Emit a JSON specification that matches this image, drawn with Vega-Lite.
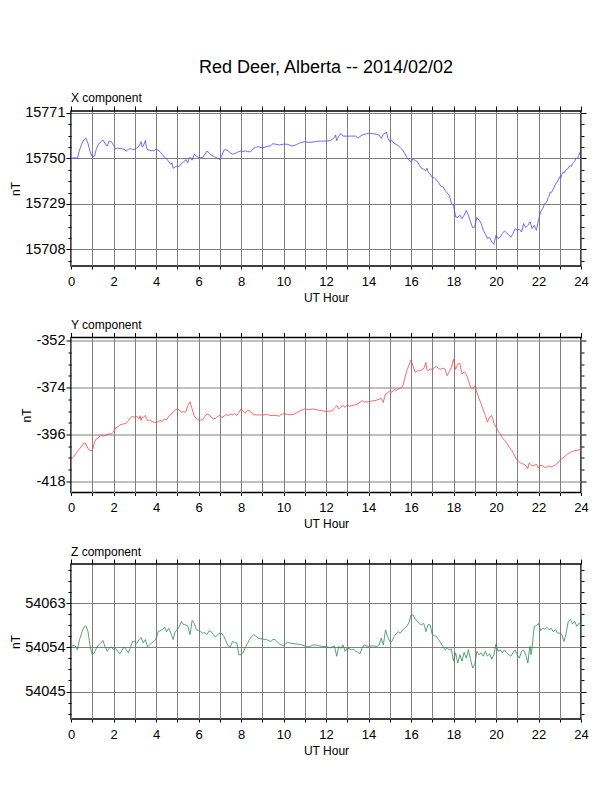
{
  "$schema": "https://vega.github.io/schema/vega-lite/v6.json",
  "background": "white",
  "autosize": {"type": "pad"},
  "padding": {"left": 8, "top": 59, "right": 5, "bottom": 5},
  "title": {
    "text": "Red Deer, Alberta -- 2014/02/02",
    "anchor": "middle",
    "frame": "group",
    "fontSize": 18,
    "fontWeight": "normal",
    "font": "Liberation Sans",
    "color": "black",
    "baseline": "alphabetic",
    "offset": 0
  },
  "bounds": "flush",
  "spacing": 71.5,
  "config": {
    "view": {"stroke": "black", "strokeWidth": 1.5},
    "axis": {
      "domain": false,
      "labelFont": "Liberation Sans",
      "titleFont": "Liberation Sans",
      "labelColor": "black",
      "titleColor": "black",
      "titleFontWeight": "normal",
      "titleFontSize": 12,
      "tickColor": "black",
      "tickWidth": 1,
      "gridColor": "#808080",
      "gridWidth": 1,
      "labelFlush": false,
      "labelOverlap": false
    },
    "title": {"font": "Liberation Sans", "color": "black"}
  },
  "datasets": {
    "xcomp": [
      {"h":0,"v":15750},{"h":0.2,"v":15750.3},{"h":0.3,"v":15750},{"h":0.4,"v":15753.9},{"h":0.5,"v":15756.5},{"h":0.6,"v":15758.5},{"h":0.7,"v":15759.3},{"h":0.8,"v":15757},{"h":0.9,"v":15753},{"h":1.0,"v":15750.8},
      {"h":1.1,"v":15751},{"h":1.2,"v":15754.6},{"h":1.3,"v":15756.5},{"h":1.4,"v":15757.7},{"h":1.5,"v":15758.5},{"h":1.6,"v":15757},{"h":1.7,"v":15755.7},{"h":1.8,"v":15758},{"h":1.9,"v":15757.7},{"h":2.0,"v":15756},
      {"h":2.1,"v":15754.3},{"h":2.2,"v":15754.8},{"h":2.3,"v":15754.6},{"h":2.4,"v":15754.4},{"h":2.5,"v":15754.2},{"h":2.6,"v":15753.4},{"h":2.7,"v":15754.2},{"h":2.8,"v":15754.6},{"h":2.9,"v":15754},{"h":3.0,"v":15754.3},
      {"h":3.1,"v":15754.8},{"h":3.2,"v":15755.7},{"h":3.3,"v":15757.7},{"h":3.35,"v":15755.2},{"h":3.4,"v":15755.7},{"h":3.5,"v":15758.2},{"h":3.55,"v":15755},{"h":3.6,"v":15753.9},{"h":3.7,"v":15753.8},{"h":3.8,"v":15753.5},
      {"h":3.9,"v":15753.6},{"h":4.0,"v":15754.2},{"h":4.1,"v":15753.8},{"h":4.2,"v":15753},{"h":4.3,"v":15751.8},{"h":4.4,"v":15750.5},{"h":4.5,"v":15749.8},{"h":4.6,"v":15748.5},{"h":4.7,"v":15747.2},{"h":4.75,"v":15748},
      {"h":4.8,"v":15745.4},{"h":4.9,"v":15746.1},{"h":5.0,"v":15746.5},{"h":5.1,"v":15746.3},{"h":5.2,"v":15747.7},{"h":5.3,"v":15748.3},{"h":5.4,"v":15749.5},{"h":5.5,"v":15748},{"h":5.55,"v":15750},{"h":5.6,"v":15750.5},
      {"h":5.7,"v":15749.2},{"h":5.8,"v":15752},{"h":5.9,"v":15751},{"h":6.0,"v":15750.5},{"h":6.1,"v":15750.3},{"h":6.2,"v":15750.5},{"h":6.3,"v":15752},{"h":6.4,"v":15753.4},{"h":6.5,"v":15752.6},{"h":6.6,"v":15751.5},
      {"h":6.7,"v":15751},{"h":6.8,"v":15750.5},{"h":6.9,"v":15750},{"h":7.0,"v":15749.5},{"h":7.1,"v":15751.5},{"h":7.2,"v":15753.9},{"h":7.3,"v":15753.9},{"h":7.4,"v":15753.5},{"h":7.5,"v":15752.5},{"h":7.6,"v":15752},
      {"h":7.7,"v":15752.3},{"h":7.8,"v":15752.6},{"h":7.9,"v":15753.2},{"h":8.0,"v":15753.5},{"h":8.1,"v":15753.2},{"h":8.2,"v":15753.5},{"h":8.3,"v":15753.2},{"h":8.4,"v":15753},{"h":8.5,"v":15753.5},{"h":8.6,"v":15754.6},
      {"h":8.7,"v":15755.2},{"h":8.8,"v":15755.4},{"h":9.0,"v":15754.9},{"h":9.2,"v":15755.4},{"h":9.4,"v":15755.9},{"h":9.5,"v":15756.8},{"h":9.6,"v":15756.6},{"h":9.8,"v":15756.2},{"h":10.0,"v":15756.6},{"h":10.2,"v":15756.5},
      {"h":10.4,"v":15755.7},{"h":10.6,"v":15756.3},{"h":10.8,"v":15757.3},{"h":11.0,"v":15757.7},{"h":11.2,"v":15757.4},{"h":11.4,"v":15757.6},{"h":11.6,"v":15757.9},{"h":11.8,"v":15758},{"h":12.0,"v":15758},{"h":12.2,"v":15758.2},
      {"h":12.4,"v":15759.7},{"h":12.45,"v":15760.8},{"h":12.5,"v":15758.2},{"h":12.6,"v":15760.3},{"h":12.7,"v":15761.5},{"h":12.8,"v":15760.3},{"h":13.0,"v":15760.3},{"h":13.2,"v":15760.3},{"h":13.4,"v":15760.3},{"h":13.5,"v":15759.4},
      {"h":13.7,"v":15760.8},{"h":14.0,"v":15761.6},{"h":14.3,"v":15761.3},{"h":14.5,"v":15760.8},{"h":14.6,"v":15759.3},{"h":14.7,"v":15761.3},{"h":14.8,"v":15761.6},{"h":14.85,"v":15762.2},{"h":14.9,"v":15759.7},{"h":15.0,"v":15757.7},
      {"h":15.1,"v":15758.3},{"h":15.2,"v":15757},{"h":15.3,"v":15756.5},{"h":15.4,"v":15755.9},{"h":15.5,"v":15755},{"h":15.6,"v":15753.9},{"h":15.7,"v":15752.4},{"h":15.8,"v":15750.5},{"h":15.9,"v":15749.2},{"h":16.0,"v":15748.5},
      {"h":16.1,"v":15749.8},{"h":16.2,"v":15749},{"h":16.3,"v":15748.5},{"h":16.4,"v":15746.8},{"h":16.5,"v":15745.4},{"h":16.6,"v":15745},{"h":16.7,"v":15744.3},{"h":16.75,"v":15745.5},{"h":16.8,"v":15743.8},{"h":16.9,"v":15742.8},
      {"h":17.0,"v":15741.2},{"h":17.1,"v":15741},{"h":17.2,"v":15740},{"h":17.3,"v":15738.8},{"h":17.4,"v":15737.2},{"h":17.5,"v":15736.9},{"h":17.6,"v":15735.3},{"h":17.7,"v":15734},{"h":17.8,"v":15733},{"h":17.9,"v":15729.2},
      {"h":18.0,"v":15728.4},{"h":18.1,"v":15723},{"h":18.2,"v":15722.7},{"h":18.3,"v":15723.8},{"h":18.4,"v":15722.2},{"h":18.5,"v":15723.8},{"h":18.6,"v":15726},{"h":18.7,"v":15723.8},{"h":18.8,"v":15720.7},{"h":18.9,"v":15718},
      {"h":19.0,"v":15718.4},{"h":19.1,"v":15722.7},{"h":19.2,"v":15721.5},{"h":19.3,"v":15719.9},{"h":19.4,"v":15716.8},{"h":19.5,"v":15715},{"h":19.6,"v":15713},{"h":19.7,"v":15713.5},{"h":19.8,"v":15711.4},{"h":19.9,"v":15710.3},
      {"h":20.0,"v":15714.5},{"h":20.1,"v":15713},{"h":20.2,"v":15713.7},{"h":20.3,"v":15715.3},{"h":20.4,"v":15716.5},{"h":20.5,"v":15715.6},{"h":20.6,"v":15714.5},{"h":20.7,"v":15713.7},{"h":20.8,"v":15715.3},{"h":20.9,"v":15717.6},
      {"h":21.0,"v":15716.8},{"h":21.1,"v":15717.3},{"h":21.2,"v":15716},{"h":21.3,"v":15719.9},{"h":21.4,"v":15718},{"h":21.5,"v":15719.1},{"h":21.6,"v":15720.7},{"h":21.7,"v":15717.6},{"h":21.8,"v":15719.1},{"h":21.9,"v":15716.8},
      {"h":22.0,"v":15721.5},{"h":22.1,"v":15725.3},{"h":22.2,"v":15726.9},{"h":22.3,"v":15729.2},{"h":22.4,"v":15730},{"h":22.45,"v":15731.8},{"h":22.5,"v":15732.5},{"h":22.55,"v":15734.5},{"h":22.6,"v":15734.2},{"h":22.7,"v":15735.8},
      {"h":22.8,"v":15738},{"h":22.9,"v":15739.5},{"h":23.0,"v":15741.5},{"h":23.05,"v":15741},{"h":23.1,"v":15742.6},{"h":23.15,"v":15743.5},{"h":23.2,"v":15743.2},{"h":23.3,"v":15744.8},{"h":23.4,"v":15745.4},{"h":23.45,"v":15746.5},
      {"h":23.5,"v":15746.6},{"h":23.55,"v":15746.3},{"h":23.6,"v":15747.5},{"h":23.7,"v":15748.6},{"h":23.75,"v":15749.8},{"h":23.8,"v":15750},{"h":23.85,"v":15750.2},{"h":23.9,"v":15751.5},{"h":23.95,"v":15752.8},{"h":24.0,"v":15752.3}
    ],
    "ycomp": [
      {"h":0,"v":-407.7},{"h":0.1,"v":-406.8},{"h":0.2,"v":-405.5},{"h":0.3,"v":-404},{"h":0.4,"v":-402.7},{"h":0.5,"v":-401.5},{"h":0.6,"v":-400},{"h":0.7,"v":-400.4},{"h":0.8,"v":-402.7},{"h":0.9,"v":-403.5},
      {"h":1.0,"v":-403.5},{"h":1.05,"v":-402},{"h":1.1,"v":-399.6},{"h":1.2,"v":-398},{"h":1.3,"v":-397.5},{"h":1.4,"v":-396.2},{"h":1.5,"v":-396.8},{"h":1.6,"v":-396.5},{"h":1.7,"v":-396},{"h":1.8,"v":-395.7},
      {"h":1.9,"v":-395.8},{"h":2.0,"v":-394.9},{"h":2.1,"v":-392.9},{"h":2.2,"v":-392.5},{"h":2.3,"v":-391.5},{"h":2.4,"v":-391.2},{"h":2.5,"v":-391},{"h":2.6,"v":-390.7},{"h":2.7,"v":-389.5},{"h":2.8,"v":-387.9},
      {"h":2.9,"v":-387.6},{"h":3.0,"v":-387.9},{"h":3.1,"v":-387.4},{"h":3.2,"v":-388.7},{"h":3.25,"v":-387.2},{"h":3.3,"v":-389.4},{"h":3.35,"v":-387.8},{"h":3.4,"v":-387.9},{"h":3.5,"v":-387.1},{"h":3.55,"v":-388.5},
      {"h":3.6,"v":-389.4},{"h":3.7,"v":-389.2},{"h":3.8,"v":-389.9},{"h":3.9,"v":-390.2},{"h":4.0,"v":-390.5},{"h":4.1,"v":-390},{"h":4.2,"v":-389.4},{"h":4.3,"v":-389.9},{"h":4.4,"v":-388.7},{"h":4.5,"v":-389.2},
      {"h":4.6,"v":-387.4},{"h":4.7,"v":-386.8},{"h":4.8,"v":-385.5},{"h":4.9,"v":-384.6},{"h":5.0,"v":-384},{"h":5.1,"v":-384.5},{"h":5.2,"v":-385.5},{"h":5.3,"v":-385.3},{"h":5.4,"v":-385.5},{"h":5.5,"v":-382.4},
      {"h":5.6,"v":-380.6},{"h":5.7,"v":-384},{"h":5.8,"v":-387.4},{"h":5.9,"v":-388.6},{"h":6.0,"v":-389.1},{"h":6.1,"v":-389.2},{"h":6.2,"v":-389.1},{"h":6.3,"v":-387.5},{"h":6.4,"v":-386.3},{"h":6.5,"v":-386.8},
      {"h":6.6,"v":-387.9},{"h":6.7,"v":-388.6},{"h":6.8,"v":-388.4},{"h":6.9,"v":-387.5},{"h":7.0,"v":-387.1},{"h":7.1,"v":-388},{"h":7.2,"v":-387.4},{"h":7.3,"v":-386.6},{"h":7.4,"v":-387.1},{"h":7.5,"v":-386.5},
      {"h":7.6,"v":-386.8},{"h":7.7,"v":-386.2},{"h":7.8,"v":-387.1},{"h":7.9,"v":-385.6},{"h":8.0,"v":-384},{"h":8.1,"v":-385},{"h":8.2,"v":-385.9},{"h":8.3,"v":-384.6},{"h":8.4,"v":-384.8},{"h":8.5,"v":-386},
      {"h":8.6,"v":-386.8},{"h":8.8,"v":-386.8},{"h":9.0,"v":-386.8},{"h":9.2,"v":-386.6},{"h":9.4,"v":-387.1},{"h":9.6,"v":-387},{"h":9.8,"v":-387.4},{"h":9.9,"v":-386.5},{"h":10.0,"v":-386.3},{"h":10.2,"v":-386.5},
      {"h":10.4,"v":-386.8},{"h":10.6,"v":-385.9},{"h":10.8,"v":-384.8},{"h":11.0,"v":-384},{"h":11.2,"v":-384.3},{"h":11.4,"v":-384},{"h":11.6,"v":-384.5},{"h":11.8,"v":-384.8},{"h":12.0,"v":-385.2},{"h":12.2,"v":-385},
      {"h":12.3,"v":-384.8},{"h":12.4,"v":-383.5},{"h":12.5,"v":-382.4},{"h":12.6,"v":-384},{"h":12.7,"v":-383},{"h":12.8,"v":-382.4},{"h":12.9,"v":-383.2},{"h":13.0,"v":-382.1},{"h":13.1,"v":-382.8},{"h":13.2,"v":-382.4},
      {"h":13.4,"v":-382},{"h":13.5,"v":-381.6},{"h":13.6,"v":-380.8},{"h":13.7,"v":-380.1},{"h":13.8,"v":-380.8},{"h":14.0,"v":-380.6},{"h":14.2,"v":-380.2},{"h":14.3,"v":-380.1},{"h":14.5,"v":-379.5},{"h":14.6,"v":-379},
      {"h":14.7,"v":-380.9},{"h":14.75,"v":-378.5},{"h":14.8,"v":-377},{"h":14.9,"v":-376.5},{"h":15.0,"v":-375.4},{"h":15.1,"v":-376.2},{"h":15.2,"v":-374.9},{"h":15.3,"v":-375.2},{"h":15.4,"v":-374.6},{"h":15.5,"v":-374.2},
      {"h":15.6,"v":-373.5},{"h":15.7,"v":-370},{"h":15.8,"v":-366},{"h":15.9,"v":-363.5},{"h":16.0,"v":-360.9},{"h":16.1,"v":-364},{"h":16.2,"v":-366.8},{"h":16.3,"v":-366.2},{"h":16.4,"v":-366},{"h":16.5,"v":-365.6},
      {"h":16.6,"v":-365},{"h":16.7,"v":-362.1},{"h":16.75,"v":-365.5},{"h":16.8,"v":-366},{"h":16.9,"v":-365.2},{"h":17.0,"v":-365.3},{"h":17.1,"v":-364.6},{"h":17.2,"v":-364},{"h":17.3,"v":-365},{"h":17.4,"v":-365.3},
      {"h":17.5,"v":-364.8},{"h":17.6,"v":-365.3},{"h":17.7,"v":-368.4},{"h":17.8,"v":-366.5},{"h":17.9,"v":-364.5},{"h":18.0,"v":-360.6},{"h":18.05,"v":-363},{"h":18.1,"v":-365.3},{"h":18.2,"v":-363},{"h":18.3,"v":-362.5},
      {"h":18.4,"v":-367.6},{"h":18.5,"v":-366.5},{"h":18.6,"v":-367.6},{"h":18.7,"v":-370.5},{"h":18.8,"v":-373.8},{"h":18.9,"v":-374.5},{"h":19.0,"v":-373.1},{"h":19.1,"v":-376.2},{"h":19.2,"v":-379},{"h":19.3,"v":-381.6},
      {"h":19.4,"v":-384.5},{"h":19.5,"v":-387.1},{"h":19.6,"v":-390.2},{"h":19.7,"v":-387.9},{"h":19.8,"v":-387.1},{"h":19.9,"v":-390.5},{"h":20.0,"v":-392.6},{"h":20.1,"v":-394.5},{"h":20.2,"v":-395.7},{"h":20.3,"v":-397.5},
      {"h":20.4,"v":-398.8},{"h":20.5,"v":-400},{"h":20.6,"v":-401.5},{"h":20.7,"v":-403},{"h":20.8,"v":-404.3},{"h":20.9,"v":-406.5},{"h":21.0,"v":-408.2},{"h":21.1,"v":-409},{"h":21.2,"v":-409.7},{"h":21.3,"v":-410},
      {"h":21.4,"v":-410.5},{"h":21.5,"v":-412.1},{"h":21.55,"v":-409.5},{"h":21.6,"v":-409.7},{"h":21.7,"v":-410.8},{"h":21.8,"v":-410.5},{"h":21.9,"v":-410},{"h":22.0,"v":-411.8},{"h":22.1,"v":-410.5},{"h":22.2,"v":-410.8},
      {"h":22.3,"v":-411.5},{"h":22.4,"v":-411.3},{"h":22.5,"v":-410.8},{"h":22.6,"v":-411.3},{"h":22.7,"v":-410.8},{"h":22.8,"v":-410.2},{"h":22.9,"v":-409.5},{"h":23.0,"v":-408.2},{"h":23.1,"v":-407.4},{"h":23.2,"v":-406.6},
      {"h":23.3,"v":-405.8},{"h":23.4,"v":-405},{"h":23.5,"v":-404.5},{"h":23.6,"v":-404},{"h":23.7,"v":-403.6},{"h":23.8,"v":-403.5},{"h":23.9,"v":-403.2},{"h":24.0,"v":-403.2}
    ],
    "zcomp": [
      {"h":0,"v":54054.1},{"h":0.1,"v":54054.4},{"h":0.2,"v":54054.3},{"h":0.3,"v":54053.5},{"h":0.4,"v":54055.6},{"h":0.5,"v":54056.9},{"h":0.6,"v":54058.1},{"h":0.7,"v":54058.4},{"h":0.8,"v":54057.2},{"h":0.9,"v":54054.2},
      {"h":1.0,"v":54052.5},{"h":1.1,"v":54052.9},{"h":1.2,"v":54053.9},{"h":1.3,"v":54054.5},{"h":1.4,"v":54054.9},{"h":1.5,"v":54055.4},{"h":1.6,"v":54054.2},{"h":1.7,"v":54053.2},{"h":1.8,"v":54053.9},{"h":1.9,"v":54054.1},
      {"h":2.0,"v":54053.5},{"h":2.1,"v":54053.8},{"h":2.2,"v":54053.2},{"h":2.3,"v":54052.7},{"h":2.4,"v":54053.4},{"h":2.5,"v":54054.1},{"h":2.6,"v":54053.5},{"h":2.7,"v":54052.9},{"h":2.8,"v":54054},{"h":2.9,"v":54055.2},
      {"h":3.0,"v":54055.2},{"h":3.1,"v":54054.8},{"h":3.2,"v":54055.6},{"h":3.3,"v":54056},{"h":3.4,"v":54054.9},{"h":3.5,"v":54055.6},{"h":3.6,"v":54054.1},{"h":3.7,"v":54054.5},{"h":3.8,"v":54054.9},{"h":3.9,"v":54055.2},
      {"h":4.0,"v":54055.7},{"h":4.1,"v":54057.2},{"h":4.2,"v":54057.4},{"h":4.3,"v":54057.6},{"h":4.4,"v":54058.1},{"h":4.5,"v":54057.2},{"h":4.6,"v":54057.9},{"h":4.7,"v":54056.9},{"h":4.8,"v":54055.6},{"h":4.9,"v":54057.2},
      {"h":5.0,"v":54057.6},{"h":5.1,"v":54058.3},{"h":5.2,"v":54059.3},{"h":5.3,"v":54058.6},{"h":5.4,"v":54058.6},{"h":5.5,"v":54058.3},{"h":5.6,"v":54056.6},{"h":5.7,"v":54059.5},{"h":5.8,"v":54058.9},{"h":5.9,"v":54057.6},
      {"h":6.0,"v":54057.4},{"h":6.1,"v":54057.2},{"h":6.2,"v":54056.9},{"h":6.3,"v":54057},{"h":6.4,"v":54056.6},{"h":6.5,"v":54057.4},{"h":6.6,"v":54057.2},{"h":6.7,"v":54056.6},{"h":6.8,"v":54056.1},{"h":6.9,"v":54056.6},
      {"h":7.0,"v":54056.9},{"h":7.1,"v":54056.8},{"h":7.2,"v":54056.2},{"h":7.3,"v":54055.2},{"h":7.4,"v":54054.3},{"h":7.5,"v":54054.1},{"h":7.6,"v":54055.2},{"h":7.7,"v":54055},{"h":7.8,"v":54054.9},{"h":7.9,"v":54052.5},
      {"h":8.0,"v":54052.5},{"h":8.1,"v":54053},{"h":8.2,"v":54053.9},{"h":8.3,"v":54054.8},{"h":8.4,"v":54055.6},{"h":8.5,"v":54056.2},{"h":8.6,"v":54056.6},{"h":8.7,"v":54056.3},{"h":8.8,"v":54055.9},{"h":9.0,"v":54055.7},
      {"h":9.2,"v":54055.6},{"h":9.4,"v":54055.2},{"h":9.5,"v":54055.6},{"h":9.6,"v":54055.6},{"h":9.8,"v":54054.7},{"h":10.0,"v":54054.3},{"h":10.1,"v":54054.8},{"h":10.2,"v":54055},{"h":10.4,"v":54054.8},{"h":10.6,"v":54054.7},
      {"h":10.8,"v":54054.6},{"h":11.0,"v":54054.3},{"h":11.2,"v":54054.1},{"h":11.4,"v":54054.5},{"h":11.6,"v":54054.4},{"h":11.8,"v":54054.2},{"h":12.0,"v":54054.2},{"h":12.2,"v":54053.9},{"h":12.4,"v":54054.3},{"h":12.5,"v":54052.2},
      {"h":12.6,"v":54054.2},{"h":12.7,"v":54053.8},{"h":12.8,"v":54054.5},{"h":12.9,"v":54053.2},{"h":13.0,"v":54053.9},{"h":13.1,"v":54053.7},{"h":13.2,"v":54053.5},{"h":13.3,"v":54053.6},{"h":13.4,"v":54053.2},{"h":13.5,"v":54053},
      {"h":13.6,"v":54052.7},{"h":13.7,"v":54053.9},{"h":13.8,"v":54054.5},{"h":13.9,"v":54054.3},{"h":14.0,"v":54054.2},{"h":14.2,"v":54054.3},{"h":14.4,"v":54054.2},{"h":14.5,"v":54054.5},{"h":14.6,"v":54055.9},{"h":14.7,"v":54054.5},
      {"h":14.8,"v":54057.6},{"h":14.9,"v":54056.2},{"h":15.0,"v":54055.2},{"h":15.1,"v":54055.2},{"h":15.2,"v":54056.2},{"h":15.3,"v":54056.8},{"h":15.4,"v":54057.2},{"h":15.5,"v":54056.9},{"h":15.6,"v":54057.6},{"h":15.7,"v":54057.9},
      {"h":15.8,"v":54058.3},{"h":15.9,"v":54059},{"h":16.0,"v":54060.6},{"h":16.1,"v":54060.6},{"h":16.2,"v":54059.8},{"h":16.3,"v":54059.3},{"h":16.4,"v":54058.8},{"h":16.5,"v":54058.6},{"h":16.6,"v":54058.9},{"h":16.7,"v":54057.2},
      {"h":16.8,"v":54058.6},{"h":16.9,"v":54058.6},{"h":17.0,"v":54056.6},{"h":17.1,"v":54056.4},{"h":17.2,"v":54056.2},{"h":17.3,"v":54055.6},{"h":17.4,"v":54054.9},{"h":17.5,"v":54054.2},{"h":17.6,"v":54053.5},{"h":17.7,"v":54053.9},
      {"h":17.8,"v":54053.5},{"h":17.9,"v":54053.7},{"h":18.0,"v":54051.2},{"h":18.1,"v":54052.9},{"h":18.2,"v":54050.8},{"h":18.3,"v":54052.5},{"h":18.4,"v":54051.2},{"h":18.5,"v":54053},{"h":18.6,"v":54051.8},{"h":18.7,"v":54053.5},
      {"h":18.8,"v":54051.5},{"h":18.9,"v":54049.8},{"h":19.0,"v":54050.5},{"h":19.1,"v":54053.2},{"h":19.2,"v":54052.5},{"h":19.3,"v":54052.9},{"h":19.4,"v":54052.2},{"h":19.5,"v":54053.2},{"h":19.6,"v":54052.2},{"h":19.7,"v":54052.7},
      {"h":19.8,"v":54051.6},{"h":19.9,"v":54052.5},{"h":20.0,"v":54054.7},{"h":20.1,"v":54053.2},{"h":20.2,"v":54053.5},{"h":20.3,"v":54052.9},{"h":20.4,"v":54053.5},{"h":20.5,"v":54052.9},{"h":20.6,"v":54052.5},{"h":20.7,"v":54052.2},
      {"h":20.8,"v":54052.9},{"h":20.9,"v":54053.5},{"h":21.0,"v":54052.5},{"h":21.1,"v":54051.8},{"h":21.2,"v":54053.2},{"h":21.3,"v":54053.5},{"h":21.4,"v":54052.5},{"h":21.5,"v":54050.8},{"h":21.55,"v":54052.9},{"h":21.6,"v":54054.2},
      {"h":21.65,"v":54052.5},{"h":21.7,"v":54053.9},{"h":21.75,"v":54056.2},{"h":21.8,"v":54058.3},{"h":21.9,"v":54058.4},{"h":22.0,"v":54058.9},{"h":22.1,"v":54057.4},{"h":22.2,"v":54057.9},{"h":22.3,"v":54057.7},{"h":22.4,"v":54058.1},
      {"h":22.5,"v":54057.6},{"h":22.6,"v":54057.9},{"h":22.7,"v":54057.2},{"h":22.8,"v":54057.6},{"h":22.9,"v":54056.9},{"h":23.0,"v":54056.9},{"h":23.1,"v":54056.6},{"h":23.2,"v":54055.2},{"h":23.3,"v":54056.9},{"h":23.4,"v":54059.3},
      {"h":23.5,"v":54059.7},{"h":23.6,"v":54058.8},{"h":23.7,"v":54059.3},{"h":23.8,"v":54058.3},{"h":23.9,"v":54058.9},{"h":24.0,"v":54058.6}
    ]
  },
  "vconcat": [
    {
      "title": {"text": "X component", "anchor": "start", "frame": "group", "fontSize": 12, "fontWeight": "normal", "baseline": "alphabetic", "offset": -9},
      "width": 510,
      "height": 155,
      "data": {"name": "xcomp"},
      "resolve": {"axis": {"x": "independent", "y": "independent"}},
      "layer": [
        {
          "mark": {"type": "line", "color": "#4646ff", "strokeWidth": 0.8},
          "encoding": {
            "x": {"field": "h", "type": "quantitative", "scale": {"domain": [0, 24], "nice": false}, "title": "UT Hour",
              "axis": {"values": [0,1,2,3,4,5,6,7,8,9,10,11,12,13,14,15,16,17,18,19,20,21,22,23,24], "grid": true, "tickSize": 3, "labelPadding": 6, "labelFontSize": 13, "titlePadding": 4,
                "labelExpr": "datum.value % 2 == 0 ? '' + datum.value : ''"}},
            "y": {"field": "v", "type": "quantitative", "scale": {"domain": [15700.3, 15771.9], "nice": false, "zero": false}, "title": "nT",
              "axis": {"values": [15702.75,15708,15713.25,15718.5,15723.75,15729,15734.25,15739.5,15744.75,15750,15755.25,15760.5,15765.75,15771],
                "grid": true, "labelFontSize": 14.5, "labelPadding": 1, "titlePadding": 2.5,
                "tickSize": {"condition": {"test": "indexof([15708,15729,15750,15771], datum.value) >= 0", "value": 5}, "value": 3},
                "gridOpacity": {"condition": {"test": "indexof([15708,15729,15750,15771], datum.value) >= 0", "value": 1}, "value": 0},
                "labelExpr": "indexof([15708,15729,15750,15771], datum.value) >= 0 ? '' + datum.value : ''"}}
          }
        },
        {
          "mark": {"type": "line", "strokeOpacity": 0},
          "encoding": {
            "x": {"field": "h", "type": "quantitative", "title": null,
              "axis": {"orient": "top", "values": [0,1,2,3,4,5,6,7,8,9,10,11,12,13,14,15,16,17,18,19,20,21,22,23,24], "grid": false, "labels": false, "tickSize": 5}},
            "y": {"field": "v", "type": "quantitative", "title": null,
              "axis": {"orient": "right", "values": [15702.75,15708,15713.25,15718.5,15723.75,15729,15734.25,15739.5,15744.75,15750,15755.25,15760.5,15765.75,15771],
                "grid": false, "labels": false,
                "tickSize": {"condition": {"test": "indexof([15708,15729,15750,15771], datum.value) >= 0", "value": 5}, "value": 3}}}
          }
        }
      ]
    },
    {
      "title": {"text": "Y component", "anchor": "start", "frame": "group", "fontSize": 12, "fontWeight": "normal", "baseline": "alphabetic", "offset": -9},
      "width": 510,
      "height": 155,
      "data": {"name": "ycomp"},
      "resolve": {"axis": {"x": "independent", "y": "independent"}},
      "layer": [
        {
          "mark": {"type": "line", "color": "#ff4040", "strokeWidth": 0.8},
          "encoding": {
            "x": {"field": "h", "type": "quantitative", "scale": {"domain": [0, 24], "nice": false}, "title": "UT Hour",
              "axis": {"values": [0,1,2,3,4,5,6,7,8,9,10,11,12,13,14,15,16,17,18,19,20,21,22,23,24], "grid": true, "tickSize": 3, "labelPadding": 6, "labelFontSize": 13, "titlePadding": 4,
                "labelExpr": "datum.value % 2 == 0 ? '' + datum.value : ''"}},
            "y": {"field": "v", "type": "quantitative", "scale": {"domain": [-423.3, -350.4], "nice": false, "zero": false}, "title": "nT",
              "axis": {"values": [-418,-412.5,-407,-401.5,-396,-390.5,-385,-379.5,-374,-368.5,-363,-357.5,-352],
                "grid": true, "labelFontSize": 14.5, "labelPadding": 1, "titlePadding": 2.5,
                "tickSize": {"condition": {"test": "indexof([-418,-396,-374,-352], datum.value) >= 0", "value": 5}, "value": 3},
                "gridOpacity": {"condition": {"test": "indexof([-418,-396,-374,-352], datum.value) >= 0", "value": 1}, "value": 0},
                "labelExpr": "indexof([-418,-396,-374,-352], datum.value) >= 0 ? '' + datum.value : ''"}}
          }
        },
        {
          "mark": {"type": "line", "strokeOpacity": 0},
          "encoding": {
            "x": {"field": "h", "type": "quantitative", "title": null,
              "axis": {"orient": "top", "values": [0,1,2,3,4,5,6,7,8,9,10,11,12,13,14,15,16,17,18,19,20,21,22,23,24], "grid": false, "labels": false, "tickSize": 5}},
            "y": {"field": "v", "type": "quantitative", "title": null,
              "axis": {"orient": "right", "values": [-418,-412.5,-407,-401.5,-396,-390.5,-385,-379.5,-374,-368.5,-363,-357.5,-352],
                "grid": false, "labels": false,
                "tickSize": {"condition": {"test": "indexof([-418,-396,-374,-352], datum.value) >= 0", "value": 5}, "value": 3}}}
          }
        }
      ]
    },
    {
      "title": {"text": "Z component", "anchor": "start", "frame": "group", "fontSize": 12, "fontWeight": "normal", "baseline": "alphabetic", "offset": -9},
      "width": 510,
      "height": 155,
      "data": {"name": "zcomp"},
      "resolve": {"axis": {"x": "independent", "y": "independent"}},
      "layer": [
        {
          "mark": {"type": "line", "color": "#2f8a58", "strokeWidth": 0.8},
          "encoding": {
            "x": {"field": "h", "type": "quantitative", "scale": {"domain": [0, 24], "nice": false}, "title": "UT Hour",
              "axis": {"values": [0,1,2,3,4,5,6,7,8,9,10,11,12,13,14,15,16,17,18,19,20,21,22,23,24], "grid": true, "tickSize": 3, "labelPadding": 6, "labelFontSize": 13, "titlePadding": 4,
                "labelExpr": "datum.value % 2 == 0 ? '' + datum.value : ''"}},
            "y": {"field": "v", "type": "quantitative", "scale": {"domain": [54039.4, 54071], "nice": false, "zero": false}, "title": "nT",
              "axis": {"values": [54040.5,54042.75,54045,54047.25,54049.5,54051.75,54054,54056.25,54058.5,54060.75,54063,54065.25,54067.5,54069.75],
                "grid": true, "labelFontSize": 14.5, "labelPadding": 1, "titlePadding": 2.5,
                "tickSize": {"condition": {"test": "indexof([54045,54054,54063], datum.value) >= 0", "value": 5}, "value": 3},
                "gridOpacity": {"condition": {"test": "indexof([54045,54054,54063], datum.value) >= 0", "value": 1}, "value": 0},
                "labelExpr": "indexof([54045,54054,54063], datum.value) >= 0 ? '' + datum.value : ''"}}
          }
        },
        {
          "mark": {"type": "line", "strokeOpacity": 0},
          "encoding": {
            "x": {"field": "h", "type": "quantitative", "title": null,
              "axis": {"orient": "top", "values": [0,1,2,3,4,5,6,7,8,9,10,11,12,13,14,15,16,17,18,19,20,21,22,23,24], "grid": false, "labels": false, "tickSize": 5}},
            "y": {"field": "v", "type": "quantitative", "title": null,
              "axis": {"orient": "right", "values": [54040.5,54042.75,54045,54047.25,54049.5,54051.75,54054,54056.25,54058.5,54060.75,54063,54065.25,54067.5,54069.75],
                "grid": false, "labels": false,
                "tickSize": {"condition": {"test": "indexof([54045,54054,54063], datum.value) >= 0", "value": 5}, "value": 3}}}
          }
        }
      ]
    }
  ]
}
